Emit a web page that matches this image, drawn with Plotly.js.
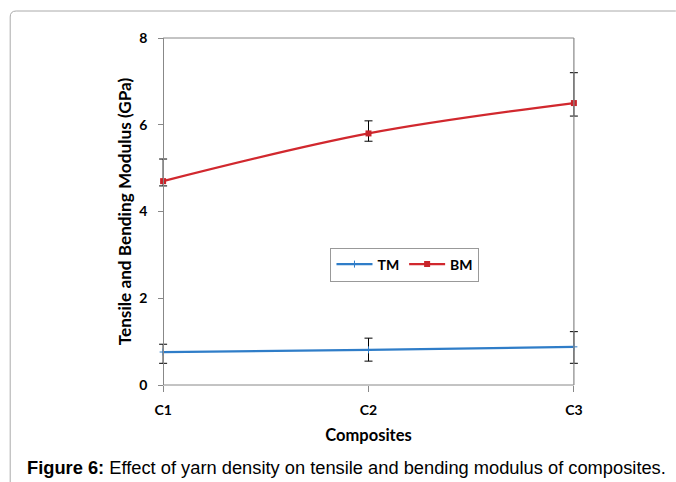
<!DOCTYPE html>
<html>
<head>
<meta charset="utf-8">
<script src="https://cdn.plot.ly/plotly-3.0.1.min.js"></script>
<style>
html,body{margin:0;padding:0;background:#fff;}
#chart{width:676px;height:482px;}
</style>
</head>
<body>
<div id="chart"></div>
<script>
const categories = ["C1", "C2", "C3"];
const tmValues = [0.76, 0.81, 0.88];
const tmErrPlus = [0.18, 0.27, 0.35];
const tmErrMinus = [0.26, 0.26, 0.38];
const bmValues = [4.70, 5.80, 6.50];
const bmErrPlus = [0.51, 0.29, 0.70];
const bmErrMinus = [0.11, 0.18, 0.30];
const yTicks = [0, 2, 4, 6, 8];

// data x=0 at pixel 163, x=2 at pixel 574; small padding so error-bar caps are not clipped
const PAD = 0.02;
const X0 = 163, X2 = 574, T = 38, B = 385, W = 676, H = 482;
const perUnit = (X2 - X0) / 2;
const L = X0 - PAD * perUnit, R = X2 + PAD * perUnit;
const px = x => (x - L) / (R - L);
const py = y => (B - y) / (B - T);

const FAM = "Lato, 'Open Sans', sans-serif";
const tickFont = {family: FAM, size: 14, color: "#000", weight: "bold"};
const AX = "#888";

const traces = [
  {
    x: categories, y: tmValues, name: "TM", type: "scatter", mode: "lines+markers",
    cliponaxis: false,
    line: {color: "#2F7DC8", width: 2.2, shape: "spline"},
    marker: {symbol: "cross-thin", size: 5, color: "#2F7DC8", line: {color: "#2F7DC8", width: 1}},
    error_y: {type: "data", symmetric: false, array: tmErrPlus, arrayminus: tmErrMinus,
              color: "#000", thickness: 1, width: 4}
  },
  {
    x: categories, y: bmValues, name: "BM", type: "scatter", mode: "lines+markers",
    cliponaxis: false,
    line: {color: "#D1282E", width: 2.2, shape: "spline"},
    marker: {symbol: "square", size: 6, color: "#C8242A"},
    error_y: {type: "data", symmetric: false, array: bmErrPlus, arrayminus: bmErrMinus,
              color: "#000", thickness: 1, width: 4}
  }
];

const layout = {
  width: W, height: H,
  margin: {l: L, r: W - R, t: T, b: H - B},
  paper_bgcolor: "#fff", plot_bgcolor: "#fff",
  showlegend: true,
  legend: {
    orientation: "h", x: px(405), y: py(264.5), xanchor: "center", yanchor: "middle",
    bgcolor: "#fff", bordercolor: "#999", borderwidth: 1,
    font: {family: FAM, size: 14, color: "#000", weight: "bold"},
    itemwidth: 36
  },
  xaxis: {
    type: "category", range: [-PAD, 2 + PAD], showgrid: false, zeroline: false,
    showline: false,
    ticks: "outside", ticklen: 6, tickcolor: AX,
    tickfont: tickFont, ticklabelstandoff: 6,
    title: {text: "Composites", font: {family: FAM, size: 16.5, color: "#000", weight: "bold"}, standoff: 12}
  },
  yaxis: {
    range: [0, 8], tickvals: yTicks, showgrid: false, zeroline: false,
    anchor: "free", position: px(X0),
    showline: true, linecolor: AX, linewidth: 1,
    ticks: "outside", ticklen: 5, tickcolor: AX,
    tickfont: tickFont,
    ticklabelstandoff: 8,
    title: {text: "Tensile and Bending Modulus (GPa)", font: {family: FAM, size: 17.2, color: "#000", weight: "bold"}, standoff: 2}
  },
  shapes: [
    {type: "line", xref: "x", yref: "paper", x0: 0, x1: 2, y0: 0, y1: 0, line: {color: AX, width: 1}},
    {type: "line", xref: "x", yref: "paper", x0: 0, x1: 2, y0: 1, y1: 1, line: {color: AX, width: 1}},
    {type: "line", xref: "x", yref: "paper", x0: 2, x1: 2, y0: 0, y1: 1, line: {color: AX, width: 1.2}},
    {
      type: "path", xref: "paper", yref: "paper",
      path: `M ${px(10)} ${py(482)} L ${px(10)} ${py(17)} Q ${px(10)} ${py(11)} ${px(16)} ${py(11)} L ${px(676)} ${py(11)}`,
      line: {color: "#aaa", width: 1}
    }
  ],
  annotations: [
    {
      xref: "paper", yref: "paper", x: px(346), y: py(467), xanchor: "center", yanchor: "middle",
      showarrow: false,
      text: "<b>Figure 6:</b> Effect of yarn density on tensile and bending modulus of composites.",
      font: {family: "'Liberation Sans', Arial, sans-serif", size: 18.3, color: "#000"}
    }
  ]
};

Plotly.newPlot("chart", traces, layout, {displayModeBar: false, staticPlot: true});
</script>
</body>
</html>
